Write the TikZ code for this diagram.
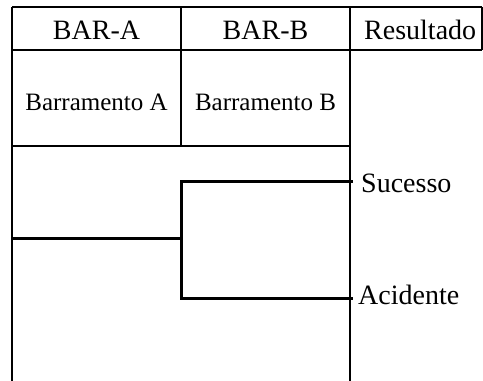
\documentclass[tikz,border=0pt]{standalone}
\usepackage{fontspec}
\setmainfont{Liberation Serif}
\begin{document}
\begin{tikzpicture}[x=1pt,y=-1pt,
  grid/.style={line width=1.2pt,black},
  branch/.style={line width=3pt,black},
  head/.style={inner sep=0pt,font=\fontsize{28}{32}\selectfont},
  sub/.style={inner sep=0pt,font=\fontsize{25}{29}\selectfont},
  outcome/.style={inner sep=0pt,anchor=base west,font=\fontsize{28}{32}\selectfont}]
\useasboundingbox (0,0) rectangle (483,381);
% table frame
\draw[grid] (12,7) -- (482,7);
\draw[grid] (12,50) -- (482,50);
\draw[grid] (12,146) -- (350,146);
\draw[grid] (12,7) -- (12,381);
\draw[grid] (181,7) -- (181,146);
\draw[grid] (350,7) -- (350,381);
\draw[grid] (482,7) -- (482,50);
% column headings
\node[head,anchor=base] (hA) at (96.5,39) {BAR-A};
\node[head,anchor=base] (hB) at (265.5,39) {BAR-B};
\node[head,anchor=base west] (hR) at (364,39) {Resultado};
\node[sub,anchor=base] (bA) at (96.5,110) {Barramento A};
\node[sub,anchor=base] (bB) at (265.5,110) {Barramento B};
% event tree
\coordinate (start) at (12,238.5);
\coordinate (fork) at (181,238.5);
\coordinate (upEnd) at (351,181.5);
\coordinate (lowEnd) at (351,298);
\node[outcome] (suc) at (361,192.5) {Sucesso};
\node[outcome] (aci) at (358,304) {Acidente};
\draw[branch] (start) -- (fork);
\draw[branch,line cap=rect] (upEnd) -| (fork) |- (lowEnd);
\end{tikzpicture}
\end{document}
